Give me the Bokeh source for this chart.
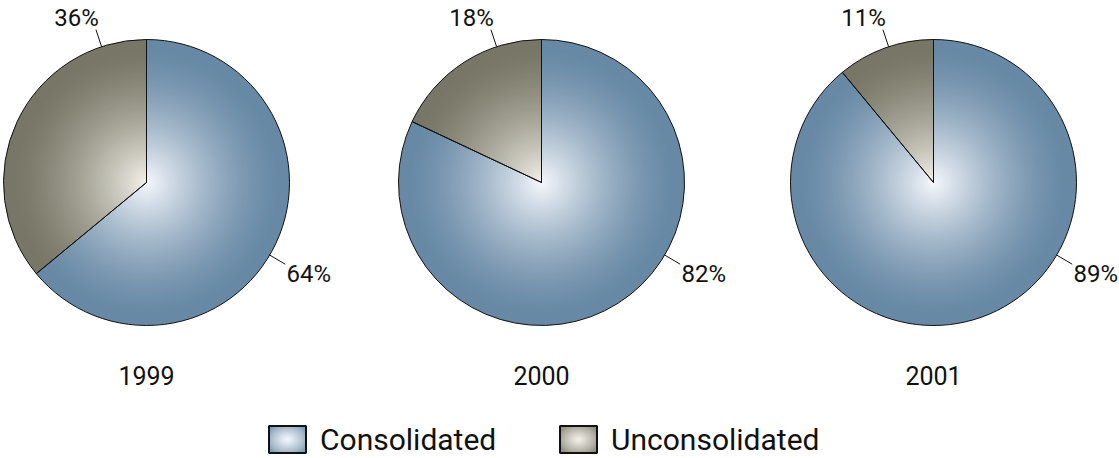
import math
from bokeh.plotting import figure
from bokeh.models import Range1d, ColumnDataSource
from bokeh.core.properties import value
from bokeh.embed import file_html
from bokeh.resources import INLINE

# ---- data ----
years = ["1999", "2000", "2001"]
series = ["Consolidated", "Unconsolidated"]
consolidated = [64, 82, 89]
unconsolidated = [36, 18, 11]

# ---- styling / layout ----
W, H = 1119, 458
centers_x = [146, 541, 933]
center_y = H - 182
R = 143
FONT = value("Roboto")
edge_cols = {"Consolidated": (104, 137, 165), "Unconsolidated": (120, 119, 103)}
mid_cols = {"Consolidated": (246, 248, 253), "Unconsolidated": (244, 242, 234)}

def mix(name, t, power=1.5):
    f = (1 - min(t / 0.95, 1.0)) ** power
    e, c = edge_cols[name], mid_cols[name]
    return "#%02x%02x%02x" % tuple(int(round(e[i] + (c[i] - e[i]) * f)) for i in range(3))

p = figure(width=W, height=H, x_range=Range1d(0, W), y_range=Range1d(0, H),
           output_backend="svg", toolbar_location=None, min_border=0,
           x_axis_location=None, y_axis_location=None)
p.grid.visible = False
p.outline_line_color = None
p.background_fill_color = "white"
p.border_fill_color = "white"

# wedge angles from data (start at 12 o'clock, unconsolidated counter-clockwise)
starts, ends, names, cxs = [], [], [], []
for cx, c, u in zip(centers_x, consolidated, unconsolidated):
    a0 = math.pi / 2
    a1 = a0 + 2 * math.pi * u / (u + c)
    starts += [a0, a1]
    ends += [a1, a0 + 2 * math.pi]
    names += ["Unconsolidated", "Consolidated"]
    cxs += [cx, cx]

# radial gradient via stacked wedges
N = 70
g = dict(x=[], y=[], r=[], s=[], e=[], col=[])
for k in range(N):
    t = 1 - k / N
    for cx, s, e, nm in zip(cxs, starts, ends, names):
        g["x"].append(cx); g["y"].append(center_y); g["r"].append(R * t)
        g["s"].append(s); g["e"].append(e); g["col"].append(mix(nm, t))
p.wedge(x="x", y="y", radius="r", start_angle="s", end_angle="e",
        fill_color="col", line_color=None, source=ColumnDataSource(g))

# outlines
p.wedge(x=cxs, y=[center_y] * len(cxs), radius=R, start_angle=starts, end_angle=ends,
        fill_color=None, line_color="#111111", line_width=1)

# leader lines and labels
top_ang = math.radians(108.3)
right_ang = math.radians(-30.5)
x0, y0, x1, y1 = [], [], [], []
for cx in centers_x:
    for a in (top_ang, right_ang):
        x0.append(cx + R * math.cos(a)); y0.append(center_y + R * math.sin(a))
        x1.append(cx + (R + 18) * math.cos(a)); y1.append(center_y + (R + 18) * math.sin(a))
p.segment(x0, y0, x1, y1, line_color="#111111", line_width=1)

p.text(x=[cx - 70 for cx in centers_x], y=[center_y + 165] * 3,
       text=["%d%%" % u for u in unconsolidated], text_font=FONT, text_font_size="24px",
       text_align="center", text_baseline="middle", text_color="#111111")
p.text(x=[cx + 140 for cx in centers_x], y=[center_y - 91] * 3,
       text=["%d%%" % c for c in consolidated], text_font=FONT, text_font_size="24px",
       text_align="left", text_baseline="middle", text_color="#111111")
p.text(x=centers_x, y=[center_y - 193] * 3, text=years, text_font=FONT,
       text_font_size="25px", text_align="center", text_baseline="middle", text_color="#111111")

# legend with gradient swatches
leg_x = [287, 578]
leg_y = H - 439
bw, bh = 37, 27
M = 30
lg = dict(x=[], y=[], w=[], h=[], col=[])
for nm, lx in zip(series, leg_x):
    lg["x"].append(lx); lg["y"].append(leg_y); lg["w"].append(bw); lg["h"].append(bh)
    lg["col"].append(mix(nm, 0.85, power=0.7))
for k in range(M):
    t = 1 - k / M
    for nm, lx in zip(series, leg_x):
        lg["x"].append(lx); lg["y"].append(leg_y); lg["w"].append(bw * 1.2 * t); lg["h"].append(bh * 1.2 * t)
        lg["col"].append(mix(nm, t * 0.85, power=0.7))
p.rect(x="x", y="y", width="w", height="h", fill_color="col", line_color=None,
       source=ColumnDataSource({k: v[:2] for k, v in lg.items()}))
p.ellipse(x="x", y="y", width="w", height="h", fill_color="col", line_color=None,
          source=ColumnDataSource({k: v[2:] for k, v in lg.items()}))
# cover ellipse overflow outside the swatch with white frames
p.rect(x=leg_x, y=[leg_y] * 2, width=bw + 12, height=bh + 12, fill_color=None,
       line_color="white", line_width=11)
p.rect(x=leg_x, y=[leg_y] * 2, width=bw, height=bh, fill_color=None,
       line_color="#111111", line_width=2)
p.text(x=[lx + bw / 2 + 14 for lx in leg_x], y=[leg_y] * 2, text=series, text_font=FONT,
       text_font_size="30px", text_align="left", text_baseline="middle", text_color="#111111")

open("out.html", "w").write(file_html(p, INLINE))
